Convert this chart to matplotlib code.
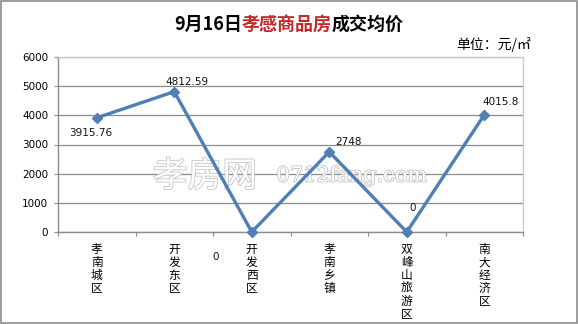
import matplotlib
matplotlib.use("Agg")
import matplotlib.pyplot as plt
import matplotlib.patheffects as pe
from matplotlib.patches import Rectangle

plt.rcParams['font.family'] = ['Noto Sans CJK SC', 'DejaVu Sans']

# data
districts = ["孝南城区", "开发东区", "开发西区", "孝南乡镇", "双峰山旅游区", "南大经济区"]
prices = [3915.76, 4812.59, 0, 2748, 0, 4015.8]
price_labels = ["3915.76", "4812.59", "0", "2748", "0", "4015.8"]
yticks = [0, 1000, 2000, 3000, 4000, 5000, 6000]

# label offsets in points (x, y) from each point
label_offsets = [(-4, -11), (9, 7), (-26, -18), (14, 7), (4, 17), (12, 9)]

blue = "#4f7fb5"
grid = "#8a8a8a"

fig = plt.figure(figsize=(5.78, 3.24), dpi=100)
ax = fig.add_axes([58 / 578, 1 - 232 / 324, (523 - 58) / 578, (232 - 57) / 324])

xs = list(range(len(districts)))
ax.plot(xs, prices, color=blue, lw=2.4, marker="D", ms=5, mfc=blue, mec=blue,
        zorder=3, clip_on=False)

for x, y, t, off in zip(xs, prices, price_labels, label_offsets):
    ax.annotate(t, (x, y), xytext=off, textcoords="offset points",
                ha="center", va="center", fontsize=7.5, family="DejaVu Sans",
                color="#111111", annotation_clip=False)

ax.set_xlim(-0.5, len(districts) - 0.5)
ax.set_ylim(0, 6000)
ax.set_yticks(yticks)
ax.set_yticklabels([str(v) for v in yticks], fontsize=7.5, family="DejaVu Sans")
ax.yaxis.grid(True, color=grid, lw=0.9)
ax.set_axisbelow(True)

ax.set_xticks([i + 0.5 for i in range(-1, len(districts))])
ax.set_xticklabels([])
ax.set_xticks(xs, minor=True)
ax.set_xticklabels(["\n".join(d) for d in districts], minor=True, fontsize=8.5,
                   va="top", linespacing=1.0)
ax.tick_params(axis="x", which="minor", length=0, pad=8)
ax.tick_params(axis="x", which="major", length=3, color=grid, direction="out")
ax.tick_params(axis="y", length=3, color=grid, pad=4)

for s in ["left", "bottom"]:
    ax.spines[s].set_color(grid)
    ax.spines[s].set_linewidth(1.0)
for s in ["top", "right"]:
    ax.spines[s].set_color("#c4ccd8")
    ax.spines[s].set_linewidth(1.0)

# watermark
halo = [pe.withStroke(linewidth=1.2, foreground="#c4c4c4")]
ax.text(205 / 578, 1 - 177 / 324, "孝房网", transform=fig.transFigure, fontsize=25,
        color="white", ha="center", va="center", path_effects=halo, zorder=2)
ax.text(352 / 578, 1 - 176 / 324, "0712fang.com", transform=fig.transFigure,
        fontsize=15, family="DejaVu Serif", color="white", ha="center", va="center",
        path_effects=halo, zorder=2)

# title in three colours
parts = [("9月16日", "black"), ("孝感商品房", "#c22a2a"), ("成交均价", "black")]
fig.canvas.draw()
r = fig.canvas.get_renderer()
texts = []
for s, c in parts:
    texts.append(fig.text(0, 1 - 24 / 324, s, fontsize=13, fontweight="bold",
                          color=c, va="center", ha="left"))
widths = [t.get_window_extent(r).width for t in texts]
x0 = (578 - sum(widths)) / 2
for t, w in zip(texts, widths):
    t.set_x(x0 / 578)
    x0 += w

fig.text(531 / 578, 1 - 44 / 324, "单位：元/㎡", fontsize=10, ha="right", va="center")

fig.patches.append(Rectangle((0.001, 0.002), 0.997, 0.995, transform=fig.transFigure,
                             fill=False, edgecolor="#8c8c8c", lw=1.2))

fig.savefig("out.png", dpi=100)
